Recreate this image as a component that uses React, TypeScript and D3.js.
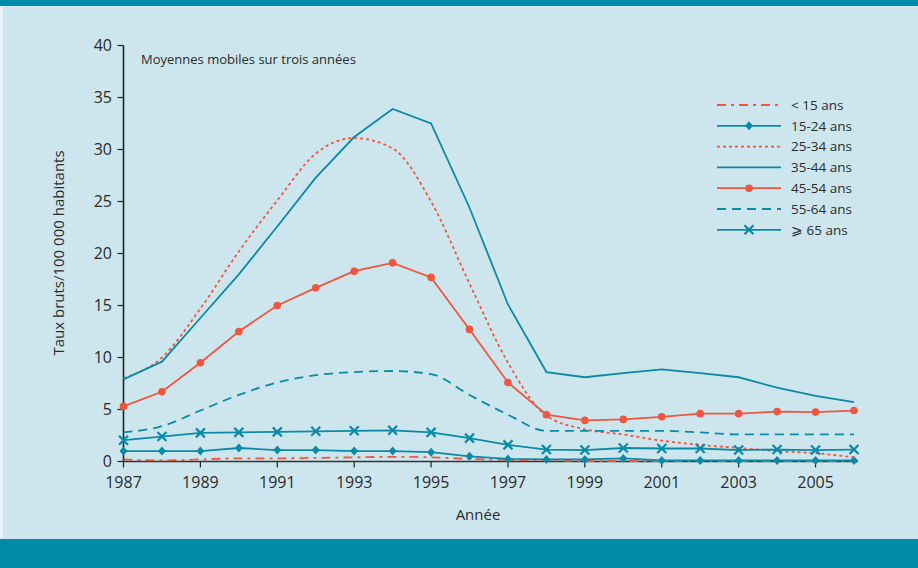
import React, { useEffect, useRef } from 'react'
import * as d3 from 'd3'

const years = d3.range(1987, 2007)

const under15 = [0.2, 0.1, 0.2, 0.3, 0.3, 0.35, 0.4, 0.45, 0.4, 0.25, 0.15, 0.1, 0.05, 0.05, 0.05, 0.05, 0.05, 0.05, 0.05, 0.05]
const age15_24 = [1.0, 1.0, 1.0, 1.3, 1.1, 1.1, 1.0, 1.0, 0.9, 0.5, 0.25, 0.2, 0.2, 0.3, 0.1, 0.1, 0.1, 0.1, 0.1, 0.1]
const age25_34 = [8.0, 10.0, 14.7, 20.2, 25.1, 29.6, 31.1, 30.1, 25.0, 17.1, 9.5, 4.4, 3.1, 2.6, 2.0, 1.6, 1.3, 1.0, 0.8, 0.4]
const age35_44 = [7.9, 9.6, 13.8, 18.0, 22.6, 27.3, 31.2, 33.9, 32.5, 24.4, 15.1, 8.6, 8.1, 8.5, 8.85, 8.5, 8.1, 7.1, 6.3, 5.7]
const age45_54 = [5.3, 6.7, 9.5, 12.5, 15.0, 16.7, 18.3, 19.1, 17.7, 12.7, 7.6, 4.5, 3.95, 4.05, 4.3, 4.6, 4.6, 4.8, 4.75, 4.9]
const age55_64 = [2.8, 3.4, 4.9, 6.4, 7.6, 8.3, 8.6, 8.7, 8.4, 6.4, 4.5, 2.95, 2.95, 2.95, 2.95, 2.8, 2.6, 2.6, 2.6, 2.6]
const age65plus = [2.05, 2.4, 2.75, 2.8, 2.85, 2.9, 2.95, 3.0, 2.8, 2.25, 1.6, 1.15, 1.1, 1.3, 1.25, 1.25, 1.1, 1.15, 1.1, 1.15]

const yTicks = [0, 5, 10, 15, 20, 25, 30, 35, 40]
const xTicks = [1987, 1989, 1991, 1993, 1995, 1997, 1999, 2001, 2003, 2005]

const TEAL = '#0a8aa5'
const RED = '#f0553d'

interface Series {
    name: string
    values: number[]
    color: string
    dash: string | null
    marker: 'none' | 'diamond' | 'dot' | 'cross'
    smooth: boolean
}

const series: Series[] = [
    { name: '< 15 ans', values: under15, color: RED, dash: '9,5,3,5', marker: 'none', smooth: true },
    { name: '15-24 ans', values: age15_24, color: TEAL, dash: null, marker: 'diamond', smooth: false },
    { name: '25-34 ans', values: age25_34, color: RED, dash: '3,3', marker: 'none', smooth: true },
    { name: '35-44 ans', values: age35_44, color: TEAL, dash: null, marker: 'none', smooth: false },
    { name: '45-54 ans', values: age45_54, color: RED, dash: null, marker: 'dot', smooth: false },
    { name: '55-64 ans', values: age55_64, color: TEAL, dash: '9,6', marker: 'none', smooth: true },
    { name: '⩾ 65 ans', values: age65plus, color: TEAL, dash: null, marker: 'cross', smooth: false },
]

const FONT = "'Liberation Sans Narrow', 'Open Sans', sans-serif"

const App: React.FC = () => {
    const svgRef = useRef<SVGSVGElement | null>(null)

    useEffect(() => {
        if (!svgRef.current) return
        const width = 918
        const height = 568
        const svg = d3.select(svgRef.current)
        svg.selectAll('*').remove()

        // fond
        svg.append('rect').attr('width', width).attr('height', height).attr('fill', '#cde6ee')
        svg.append('rect').attr('width', 3).attr('height', height).attr('fill', '#e6f2f6')
        svg.append('rect').attr('width', width).attr('height', 6).attr('fill', '#008ca8')
        svg.append('rect').attr('y', 539).attr('width', width).attr('height', height - 539).attr('fill', '#008ca8')

        const x = d3.scaleLinear().domain([1987, 2006]).range([123.5, 854])
        const y = d3.scaleLinear().domain([0, 40]).range([461.5, 45.5])

        const g = svg.append('g').style('font-family', FONT).attr('fill', '#2b2b2b')

        // axe Y
        g.append('line').attr('x1', x(1987)).attr('x2', x(1987)).attr('y1', y(40)).attr('y2', y(0))
            .attr('stroke', '#222').attr('stroke-width', 1.6)
        yTicks.forEach((t) => {
            g.append('line').attr('x1', x(1987) - 6).attr('x2', x(1987)).attr('y1', y(t)).attr('y2', y(t))
                .attr('stroke', '#222').attr('stroke-width', 1.2)
            g.append('text').attr('x', 112).attr('y', y(t)).attr('dy', '0.35em')
                .attr('text-anchor', 'end').style('font-size', '16px').text(t)
        })

        // axe X
        g.append('line').attr('x1', x(1987)).attr('x2', x(2006) + 4).attr('y1', y(0)).attr('y2', y(0))
            .attr('stroke', '#333').attr('stroke-width', 1.6)
        xTicks.forEach((t) => {
            g.append('line').attr('x1', x(t)).attr('x2', x(t)).attr('y1', y(0)).attr('y2', y(0) + 6)
                .attr('stroke', '#222').attr('stroke-width', 1.2)
            g.append('text').attr('x', x(t)).attr('y', 488).attr('text-anchor', 'middle')
                .style('font-size', '16px').text(t)
        })

        g.append('text').attr('x', 478).attr('y', 520).attr('text-anchor', 'middle')
            .style('font-size', '15px').text('Année')
        g.append('text').attr('transform', 'translate(64,253) rotate(-90)').attr('text-anchor', 'middle')
            .style('font-size', '15px').text('Taux bruts/100 000 habitants')
        g.append('text').attr('x', 141).attr('y', 64).style('font-size', '13px')
            .text('Moyennes mobiles sur trois années')

        const drawMarker = (sel: d3.Selection<SVGGElement, unknown, null, undefined>, s: Series, cx: number, cy: number) => {
            if (s.marker === 'diamond') {
                sel.append('path').attr('d', `M${cx},${cy - 4.5}L${cx + 4},${cy}L${cx},${cy + 4.5}L${cx - 4},${cy}Z`)
                    .attr('fill', s.color)
            } else if (s.marker === 'dot') {
                sel.append('circle').attr('cx', cx).attr('cy', cy).attr('r', 3.8).attr('fill', s.color)
            } else if (s.marker === 'cross') {
                sel.append('path').attr('d', `M${cx - 4.5},${cy - 4.5}L${cx + 4.5},${cy + 4.5}M${cx - 4.5},${cy + 4.5}L${cx + 4.5},${cy - 4.5}`)
                    .attr('stroke', s.color).attr('stroke-width', 2.2).attr('fill', 'none')
            }
        }

        const plot = svg.append('g')
        series.forEach((s) => {
            const line = d3.line<number>()
                .x((_, i) => x(years[i]))
                .y((d) => y(d))
                .curve(s.smooth ? d3.curveMonotoneX : d3.curveLinear)
            plot.append('path').attr('d', line(s.values) || '')
                .attr('fill', 'none').attr('stroke', s.color).attr('stroke-width', 1.8)
                .attr('stroke-dasharray', s.dash)
            s.values.forEach((v, i) => drawMarker(plot, s, x(years[i]), y(v)))
        })

        // légende
        const leg = svg.append('g').style('font-family', FONT)
        series.forEach((s, i) => {
            const ly = 105 + i * 20.8
            leg.append('line').attr('x1', 717).attr('x2', 781).attr('y1', ly).attr('y2', ly)
                .attr('stroke', s.color).attr('stroke-width', 1.8).attr('stroke-dasharray', s.dash)
            drawMarker(leg, s, 749, ly)
            leg.append('text').attr('x', 791).attr('y', ly).attr('dy', '0.35em')
                .attr('fill', '#2b2b2b').style('font-size', '13.5px').text(s.name)
        })
    }, [])

    return (
        <svg ref={svgRef} width={918} height={568}
            style={{ position: 'absolute', left: 0, top: 0, display: 'block' }} />
    )
}

export default App
